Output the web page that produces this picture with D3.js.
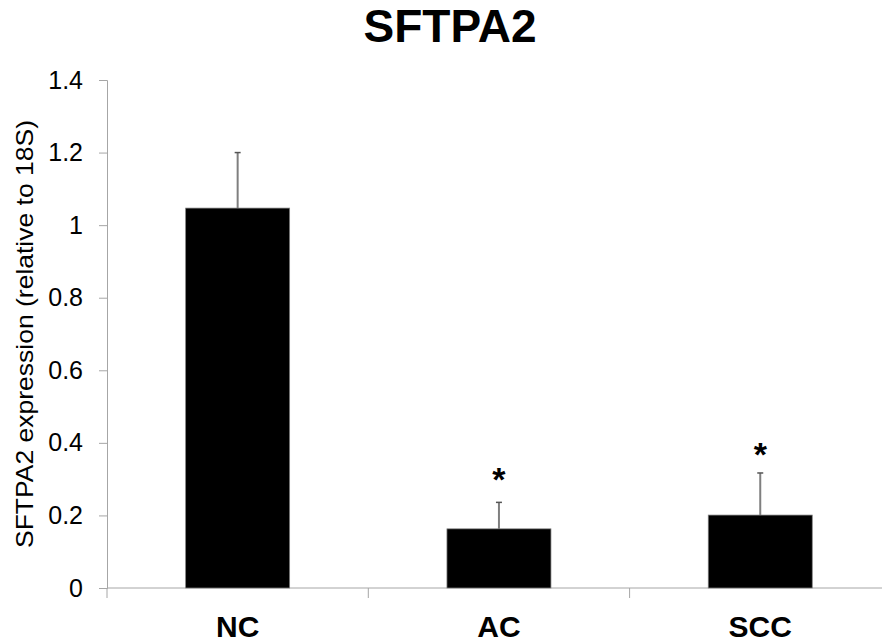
<!DOCTYPE html>
<html>
<head>
<meta charset="utf-8">
<script src="https://cdn.jsdelivr.net/npm/d3@7"></script>
<style>
  body { margin: 0; background: #fff; }
  svg { display: block; font-family: "Liberation Sans", Arial, sans-serif; }
</style>
</head>
<body>
<div id="chart"></div>
<script>
    // data
    const categories = ["NC", "AC", "SCC"];
    const means = [1.047, 0.163, 0.201];
    const errors = [0.153, 0.073, 0.116];
    const starAt = [null, 0.321, 0.388];   // asterisk centre, in axis units
    const yTicks = [0, 0.2, 0.4, 0.6, 0.8, 1, 1.2, 1.4];

    (function() {
    const width = 882, height = 644;
    const plotLeft = 107, plotTop = 80, plotBottom = 588;
    const bandW = 261.3;

    const svg = d3.select("#chart")
        .append("svg")
        .attr("width", width)
        .attr("height", height);

    const x = d3.scaleBand()
        .domain(categories)
        .range([plotLeft, plotLeft + bandW * categories.length])
        .paddingInner(0)
        .paddingOuter(0);

    const y = d3.scaleLinear()
        .domain([0, 1.4])
        .range([plotBottom, plotTop]);

    const barW = 104;

    // title
    svg.append("text")
        .attr("x", 450)
        .attr("y", 42)
        .attr("text-anchor", "middle")
        .attr("font-size", "46px")
        .attr("font-weight", "bold")
        .text("SFTPA2");

    // y axis
    const yAxis = svg.append("g")
        .attr("transform", `translate(${plotLeft},0)`)
        .call(d3.axisLeft(y)
            .tickValues(yTicks)
            .tickSize(8)
            .tickPadding(16)
            .tickFormat(d => d3.format("")(+d.toFixed(1))));
    yAxis.select(".domain").attr("stroke", "#a6a6a6").attr("stroke-width", 1);
    yAxis.selectAll(".tick line").attr("stroke", "#a6a6a6");
    yAxis.selectAll(".tick text")
        .attr("font-size", "25px")
        .attr("font-family", "Liberation Sans, Arial, sans-serif")
        .attr("fill", "#000");

    // x axis: ticks at category boundaries
    const xAxis = svg.append("g")
        .attr("transform", `translate(0,${plotBottom})`);
    xAxis.append("line")
        .attr("x1", plotLeft).attr("x2", plotLeft + bandW * categories.length)
        .attr("stroke", "#a6a6a6");
    xAxis.selectAll(".bound")
        .data(categories)
        .join("line")
        .attr("class", "bound")
        .attr("x1", d => x(d))
        .attr("x2", d => x(d))
        .attr("y1", 0).attr("y2", 10)
        .attr("stroke", "#a6a6a6");
    xAxis.selectAll(".cat")
        .data(categories)
        .join("text")
        .attr("class", "cat")
        .attr("x", d => x(d) + x.bandwidth() / 2)
        .attr("y", 49)
        .attr("text-anchor", "middle")
        .attr("font-size", "30px")
        .attr("font-weight", "bold")
        .text(d => d);

    // y axis title
    svg.append("text")
        .attr("transform", "translate(33,334) rotate(-90)")
        .attr("text-anchor", "middle")
        .attr("font-size", "24px")
        .attr("textLength", 428)
        .attr("lengthAdjust", "spacingAndGlyphs")
        .text("SFTPA2 expression (relative to 18S)");

    const rows = categories.map((c, i) => ({ c, m: means[i], e: errors[i], s: starAt[i] }));

    // error bars (drawn under the bars)
    const err = svg.append("g");
    err.selectAll("line.stem")
        .data(rows)
        .join("line")
        .attr("class", "stem")
        .attr("x1", d => x(d.c) + x.bandwidth() / 2)
        .attr("x2", d => x(d.c) + x.bandwidth() / 2)
        .attr("y1", d => y(d.m))
        .attr("y2", d => y(d.m + d.e))
        .attr("stroke", "#7f7f7f")
        .attr("stroke-width", 2);
    err.selectAll("line.cap")
        .data(rows)
        .join("line")
        .attr("class", "cap")
        .attr("x1", d => x(d.c) + x.bandwidth() / 2 - 3)
        .attr("x2", d => x(d.c) + x.bandwidth() / 2 + 3)
        .attr("y1", d => y(d.m + d.e))
        .attr("y2", d => y(d.m + d.e))
        .attr("stroke", "#555")
        .attr("stroke-width", 1.5);

    // bars
    svg.append("g")
        .selectAll("rect")
        .data(rows)
        .join("rect")
        .attr("x", d => x(d.c) + (x.bandwidth() - barW) / 2)
        .attr("y", d => y(d.m))
        .attr("width", barW)
        .attr("height", d => y(0) - y(d.m))
        .attr("fill", "#000")
        .attr("stroke", "#7f7f7f")
        .attr("stroke-width", 0.75);

    // significance asterisks
    svg.append("g")
        .selectAll("text")
        .data(rows.filter(d => d.s != null))
        .join("text")
        .attr("x", d => x(d.c) + x.bandwidth() / 2)
        .attr("y", d => y(d.s) + 19)
        .attr("text-anchor", "middle")
        .attr("font-size", "34px")
        .attr("font-weight", "bold")
        .text("*");
    })();
</script>
</body>
</html>
